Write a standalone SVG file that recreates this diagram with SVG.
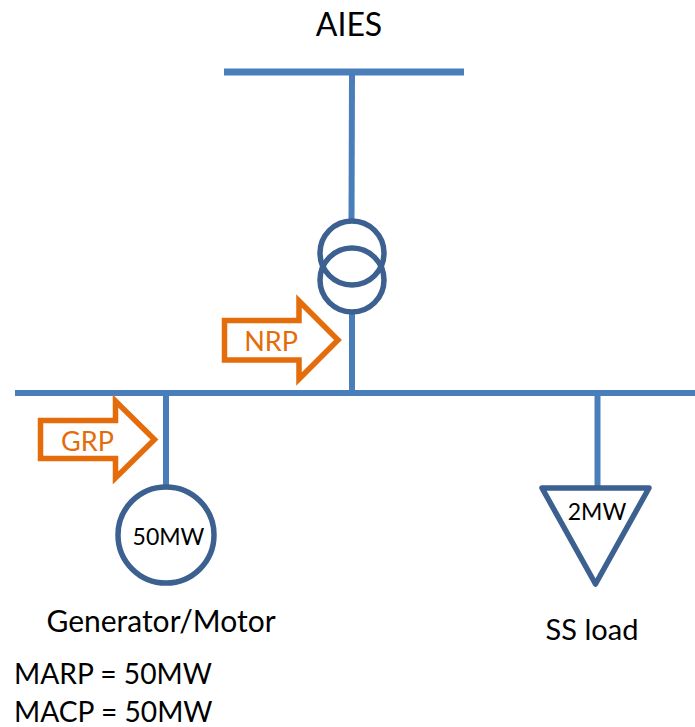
<svg xmlns="http://www.w3.org/2000/svg" width="695" height="727" viewBox="0 0 695 727">
<style>
text{font-family:"Lato","Open Sans","Liberation Sans",sans-serif}
.bus{stroke:#4a7ebb;fill:none}
.sym{stroke:#3c6090;stroke-width:5.500;fill:none;stroke-linejoin:round}
.arr{stroke:#e46c0a;stroke-width:5.500;fill:none;stroke-miterlimit:10}
.lbl{font-size:28.200px;fill:#000}
.in{font-size:23px;fill:#000}
.or{font-size:27px;fill:#e46c0a}
</style>
<rect width="695" height="727" fill="#fff"/>
<g id="connectors">
<path class="bus" stroke-width="7" d="M224 72H464"/>
<path class="bus" stroke-width="6" d="M15 393H695"/>
<path class="bus" stroke-width="6" d="M352 75L351.500 222"/>
<path class="bus" stroke-width="6" d="M352 313V393"/>
<path class="bus" stroke-width="6" d="M166 393V487"/>
<path class="bus" stroke-width="6" d="M597.500 393V487"/>
</g>
<g id="aies"><text class="lbl" x="349" y="36" text-anchor="middle" style="font-size:32px">AIES</text></g>
<g id="transformer">
<circle class="sym" cx="352" cy="253" r="32"/>
<circle class="sym" cx="352" cy="280" r="32"/>
</g>
<g id="nrp">
<path class="arr" d="M224.500 320.500H299V301L338 340L299 379V360H224.500Z"/>
<text class="or" x="271" y="351" text-anchor="middle">NRP</text>
</g>
<g id="grp">
<path class="arr" d="M40.500 420.500H115.500V401L154.500 439.500L115.500 478V458.500H40.500Z"/>
<text class="or" x="87.500" y="451" text-anchor="middle">GRP</text>
</g>
<g id="generator">
<circle class="sym" cx="166" cy="535" r="48"/>
<text class="in" x="168.500" y="545" text-anchor="middle">50MW</text>
<text class="lbl" x="161" y="632" text-anchor="middle" style="font-size:30px">Generator/Motor</text>
</g>
<g id="load">
<path class="sym" d="M542 488H649L595.500 584Z"/>
<text class="in" x="597" y="520" text-anchor="middle">2MW</text>
<text class="lbl" x="592" y="640" text-anchor="middle" style="font-size:29px">SS load</text>
</g>
<g id="ratings">
<text class="lbl" x="14" y="684">MARP = 50MW</text>
<text class="lbl" x="14" y="722">MACP = 50MW</text>
</g>
</svg>
